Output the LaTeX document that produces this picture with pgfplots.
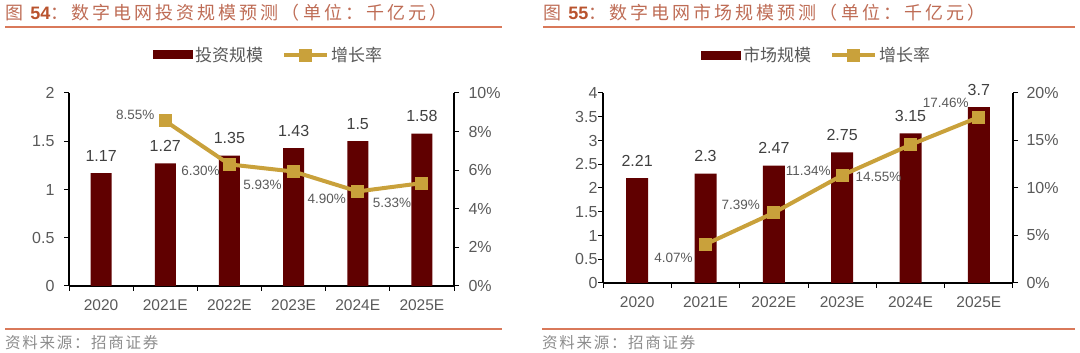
\documentclass[border=0pt]{standalone}
\usepackage{fontspec}
\setmainfont{Liberation Sans}
\newfontfamily\cjk{Noto Sans CJK SC}
\newfontfamily\cjkt[LetterSpace=11]{Noto Sans CJK SC}
\newfontfamily\cjktt[LetterSpace=17]{Noto Sans CJK SC}
\usepackage{pgfplots}
\pgfplotsset{compat=1.18}
\definecolor{barc}{HTML}{600000}
\definecolor{linec}{HTML}{C9A13B}
\definecolor{titc}{HTML}{BE6C55}
\definecolor{titb}{HTML}{B9532E}
\definecolor{rulec}{HTML}{D9795A}
\definecolor{tickc}{HTML}{595959}
\definecolor{labc}{HTML}{404040}
\definecolor{srcc}{HTML}{8C8C8C}
\tikzset{pct/.style={font=\fontsize{13.5}{14}\selectfont, text=tickc, anchor=center, inner sep=0pt}}
\pgfplotsset{
  base/.style={scale only axis, clip=false, xmin=-0.5, xmax=5.5,
    axis line style={black, line width=1.2pt},
    tick style={black, line width=1pt},
    major tick length=5pt, minor tick length=5pt, tick align=outside,
    ticklabel style={font=\fontsize{16}{16}\selectfont, text=tickc},
    /pgf/number format/assume math mode=true},
  barax/.style={base, axis x line*=bottom, axis y line*=left,
    xtick={0,...,5}, major x tick style={draw=none},
    minor xtick={-0.5,0.5,...,5.5},
    xticklabels={2020,2021E,2022E,2023E,2024E,2025E},
    xticklabel style={font=\fontsize{15.5}{15.5}\selectfont, yshift=-5pt},
    legend style={draw=none, fill=none, legend columns=2, inner sep=0pt,
      font=\fontsize{17}{17}\selectfont\cjk, text=tickc,
      /tikz/every even column/.append style={column sep=17pt}},
    legend cell align=left},
  linax/.style={base, axis y line*=right, axis x line=none,
    yticklabel={\pgfmathprintnumber{\tick}\%}},
  barplot/.style={ybar, fill=barc, draw=none, nodes near coords,
    every node near coord/.append style={font=\fontsize{16}{16}\selectfont, text=labc, anchor=base, inner sep=0pt, yshift=12pt},
    legend image code/.code={\fill[barc] (0pt,-4.5pt) rectangle (40pt,4.5pt);}},
  lineplot/.style={linec, line width=4pt, mark=square*, mark size=6pt,
    mark options={line width=0pt, draw=linec, fill=linec}}
}
\begin{document}
\begin{tikzpicture}
\useasboundingbox (0pt,0pt) rectangle (1080pt,353pt);
% ---------------- Figure 54 ----------------
\node[anchor=west, inner sep=0pt, text=titc] at (5pt,340.5pt)
  {\fontsize{18}{18}\selectfont\cjktt 图 {\color{titb}\fontspec{Liberation Sans}\bfseries 54}：数字电网投资规模预测（单位：千亿元）};
\draw[rulec, line width=2pt] (5pt,326pt) -- (502pt,326pt);
\draw[rulec, line width=2pt] (5pt,24pt) -- (502pt,24pt);
\node[anchor=west, inner sep=0pt, text=srcc] at (5pt,10pt)
  {\fontsize{15.5}{16}\selectfont\cjkt 资料来源：招商证券};
\begin{axis}[barax, at={(69pt,67pt)}, anchor=south west, width=385pt, height=193pt,
  ymin=0, ymax=2, ytick={0,0.5,...,2},
  yticklabel style={xshift=-6pt},
  legend style={at={(0.218,1.197)}, anchor=west}]
\addplot[barplot, bar width=21pt] coordinates {(0,1.17) (1,1.27) (2,1.35) (3,1.43) (4,1.5) (5,1.58)};
\addlegendentry{投资规模}
\addlegendimage{legend image code/.code={\draw[linec,line width=4pt](0pt,0pt)--(43pt,0pt); \fill[linec](15.5pt,-6pt) rectangle (27.5pt,6pt);}}
\addlegendentry{增长率}
\end{axis}
\begin{axis}[linax, at={(69pt,67pt)}, anchor=south west, width=385pt, height=193pt,
  ymin=0, ymax=10, ytick={0,2,...,10}, yticklabel style={xshift=6pt}]
\addplot[lineplot] coordinates {(1,8.55) (2,6.30) (3,5.93) (4,4.90) (5,5.33)};
\node[pct, xshift=-30pt, yshift=6pt] at (axis cs:1,8.55) {8.55\%};
\node[pct, xshift=-29pt, yshift=-6pt] at (axis cs:2,6.30) {6.30\%};
\node[pct, xshift=-31pt, yshift=-13pt] at (axis cs:3,5.93) {5.93\%};
\node[pct, xshift=-31pt, yshift=-7pt] at (axis cs:4,4.90) {4.90\%};
\node[pct, xshift=-30pt, yshift=-20pt] at (axis cs:5,5.33) {5.33\%};
\end{axis}
% ---------------- Figure 55 ----------------
\node[anchor=west, inner sep=0pt, text=titc] at (543pt,340.5pt)
  {\fontsize{18}{18}\selectfont\cjktt 图 {\color{titb}\fontspec{Liberation Sans}\bfseries 55}：数字电网市场规模预测（单位：千亿元）};
\draw[rulec, line width=2pt] (543pt,326pt) -- (1075pt,326pt);
\draw[rulec, line width=2pt] (542pt,24pt) -- (1075pt,24pt);
\node[anchor=west, inner sep=0pt, text=srcc] at (542pt,10pt)
  {\fontsize{15.5}{16}\selectfont\cjkt 资料来源：招商证券};
\begin{axis}[barax, at={(603pt,70pt)}, anchor=south west, width=410pt, height=190pt,
  ymin=0, ymax=4, ytick={0,0.5,...,4},
  yticklabel style={xshift=3pt},
  legend style={at={(0.239,1.2)}, anchor=west}]
\addplot[barplot, bar width=22pt] coordinates {(0,2.21) (1,2.3) (2,2.47) (3,2.75) (4,3.15) (5,3.7)};
\addlegendentry{市场规模}
\addlegendimage{legend image code/.code={\draw[linec,line width=4pt](0pt,0pt)--(43pt,0pt); \fill[linec](15.5pt,-6pt) rectangle (27.5pt,6pt);}}
\addlegendentry{增长率}
\end{axis}
\begin{axis}[linax, at={(603pt,70pt)}, anchor=south west, width=410pt, height=190pt,
  ymin=0, ymax=20, ytick={0,5,...,20}, yticklabel style={xshift=5pt}]
\addplot[lineplot] coordinates {(1,4.07) (2,7.39) (3,11.34) (4,14.55) (5,17.46)};
\node[pct, xshift=-32pt, yshift=-14pt] at (axis cs:1,4.07) {4.07\%};
\node[pct, xshift=-33pt, yshift=8pt] at (axis cs:2,7.39) {7.39\%};
\node[pct, xshift=-34pt, yshift=4pt] at (axis cs:3,11.34) {11.34\%};
\node[pct, xshift=-32pt, yshift=-32pt] at (axis cs:4,14.55) {14.55\%};
\node[pct, xshift=-33pt, yshift=14pt] at (axis cs:5,17.46) {17.46\%};
\end{axis}
\end{tikzpicture}
\end{document}
